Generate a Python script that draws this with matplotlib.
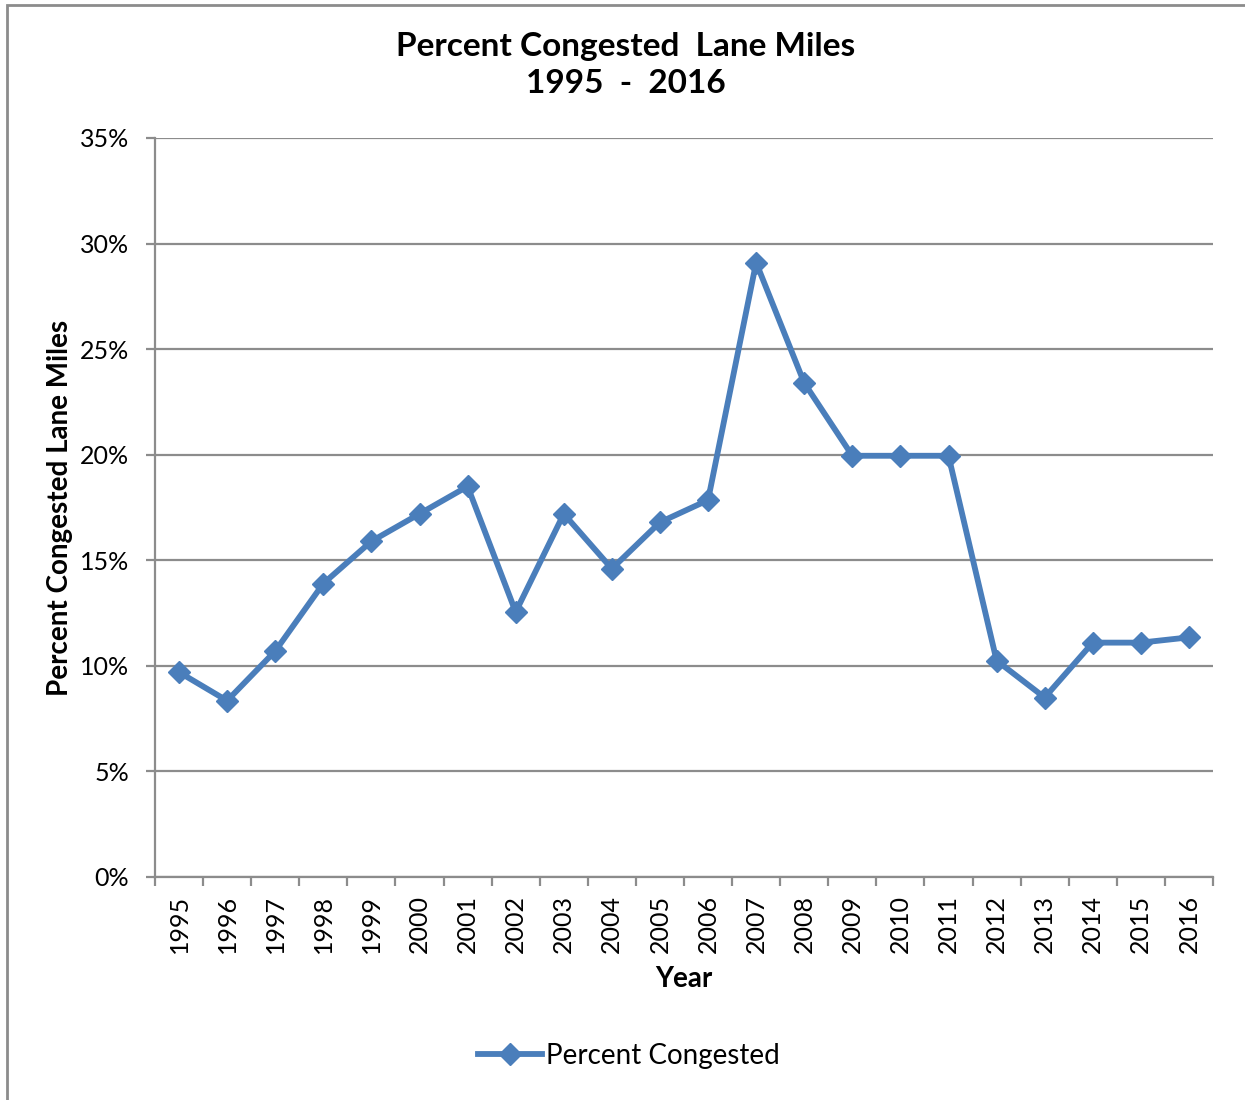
import matplotlib
matplotlib.use("Agg")
import matplotlib.pyplot as plt
from matplotlib.patches import Rectangle
from matplotlib.ticker import FixedLocator, FuncFormatter

plt.rcParams['font.family'] = ['Lato', 'DejaVu Sans']

years = ['1995', '1996', '1997', '1998', '1999', '2000', '2001', '2002', '2003', '2004', '2005',
         '2006', '2007', '2008', '2009', '2010', '2011', '2012', '2013', '2014', '2015', '2016']
percent = [9.7, 8.35, 10.7, 13.9, 15.9, 17.2, 18.5, 12.55, 17.2, 14.6, 16.8,
           17.85, 29.1, 23.4, 19.95, 19.95, 19.95, 10.25, 8.5, 11.1, 11.1, 11.35]
yticks = [0, 5, 10, 15, 20, 25, 30, 35]

blue = '#4A7EBB'
grid = '#8C8C8C'

fig = plt.figure(figsize=(12.45, 11), dpi=100)
fig.patches.append(Rectangle((7 / 1245, -0.01), 1.1, 1 - 5 / 1100 + 0.01, transform=fig.transFigure,
                             fill=False, edgecolor='#8C8C8C', linewidth=2, zorder=0))

ax = fig.add_axes([155 / 1245, (1100 - 877) / 1100, (1213 - 155) / 1245, (877 - 138) / 1100])
x = list(range(len(years)))
line, = ax.plot(x, percent, color=blue, linewidth=4.2, marker='D', markersize=11,
                markeredgecolor=blue, markerfacecolor=blue, label='Percent Congested',
                zorder=3, clip_on=False)

ax.set_xlim(-0.5, len(years) - 0.5)
ax.set_ylim(0, 35)
ax.set_yticks(yticks)
ax.yaxis.set_major_formatter(FuncFormatter(lambda v, p: f"{int(v)}%"))
ax.yaxis.grid(True, color=grid, linewidth=1.6)
ax.set_axisbelow(True)

ax.set_xticks(x)
ax.set_xticklabels(years, rotation=90, fontsize=18)
ax.tick_params(axis='x', which='major', length=0, pad=13)
ax.xaxis.set_minor_locator(FixedLocator([i - 0.5 for i in range(len(years) + 1)]))
ax.tick_params(axis='x', which='minor', length=6.5, width=1.6, color=grid, direction='out')
ax.tick_params(axis='y', length=6.5, width=1.6, color=grid, direction='out', labelsize=18, pad=12)

for s in ['top', 'right']:
    ax.spines[s].set_visible(False)
for s in ['left', 'bottom']:
    ax.spines[s].set_color(grid)
    ax.spines[s].set_linewidth(1.6)

ax.set_xlabel('Year', fontsize=20, fontweight='bold', labelpad=9)
ax.set_ylabel('Percent Congested Lane Miles', fontsize=20, fontweight='bold', labelpad=5)

fig.text(626 / 1245, 1 - 65 / 1100, 'Percent Congested  Lane Miles\n1995  -  2016', ha='center', va='center',
         fontsize=24, fontweight='bold', linespacing=1.34)

fig.legend(handles=[line], loc='center', bbox_to_anchor=(629 / 1245, 1 - 1056 / 1100), frameon=False,
           fontsize=20, handlelength=2.3, handletextpad=0.15)

fig.savefig('out.png', dpi=100)
